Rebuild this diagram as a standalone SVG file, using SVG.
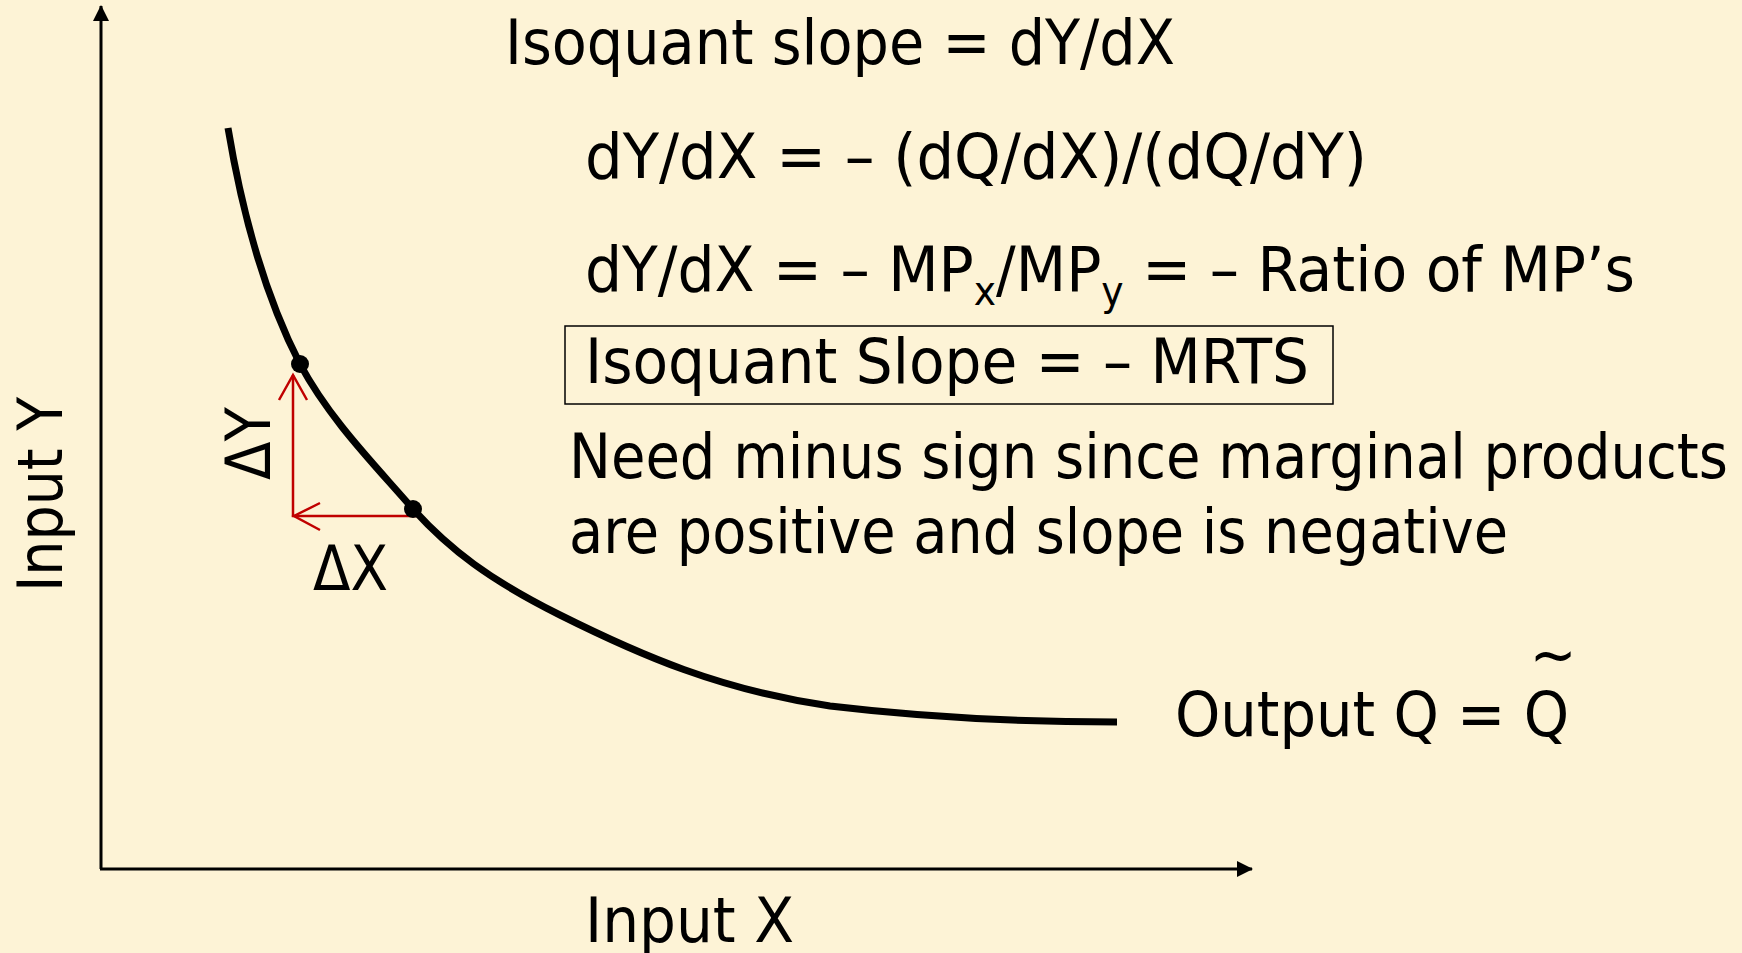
<svg xmlns="http://www.w3.org/2000/svg" width="1742" height="953" viewBox="0 0 1742 953">
<defs>
<style>
.t{font-family:"DejaVu Sans Condensed","DejaVu Sans",sans-serif;font-size:62px;fill:#000}
.axis{stroke:#000;stroke-width:3;fill:none}
.red{stroke:#c00000;stroke-width:2.5;fill:none}
</style>
<marker id="ah" viewBox="0 0 16 16" refX="15" refY="8" markerWidth="16" markerHeight="16" markerUnits="userSpaceOnUse" orient="auto">
<path d="M0,0 L16,8 L0,16 Z" fill="#000"/>
</marker>
</defs>
<rect width="1742" height="953" fill="#FDF3D6"/>
<g id="connectors">
<line class="axis" x1="101" y1="869" x2="101" y2="6" marker-end="url(#ah)"/>
<line class="axis" x1="100" y1="869" x2="1252" y2="869" marker-end="url(#ah)"/>
<path class="red" d="M420,516 L293,516 L293,375"/>
<path class="red" d="M279,400 L293,375 L307,400"/>
<path class="red" d="M320,503 L294,516 L320,530"/>
</g>
<g id="isoquant">
<path d="M228,128 C240,200 262,290 300,364 C330,420 375,465 413,509 C450,550 490,580 560,615 C640,655 720,690 830,706 C930,718 1020,722 1117,722" stroke="#000" stroke-width="7" fill="none"/>
<circle cx="300" cy="364" r="9" fill="#000"/>
<circle cx="413" cy="509" r="9" fill="#000"/>
</g>
<g id="labels">
<text class="t" x="505" y="64" textLength="670" lengthAdjust="spacingAndGlyphs">Isoquant slope = dY/dX</text>
<text class="t" x="585" y="178" textLength="782" lengthAdjust="spacingAndGlyphs">dY/dX = – (dQ/dX)/(dQ/dY)</text>
<text class="t" x="585" y="291" textLength="1050" lengthAdjust="spacingAndGlyphs">dY/dX = – MP<tspan font-size="40" dy="14">x</tspan><tspan dy="-14">/MP</tspan><tspan font-size="40" dy="14">y</tspan><tspan dy="-14"> = – Ratio of MP’s</tspan></text>
<rect x="565" y="326" width="768" height="78" fill="none" stroke="#000" stroke-width="1.5"/>
<text class="t" x="585" y="383" textLength="724" lengthAdjust="spacingAndGlyphs">Isoquant Slope = – MRTS</text>
<text class="t" x="569" y="478" textLength="1159" lengthAdjust="spacingAndGlyphs">Need minus sign since marginal products</text>
<text class="t" x="569" y="553" textLength="939" lengthAdjust="spacingAndGlyphs">are positive and slope is negative</text>
<text class="t" x="1175" y="736" textLength="394" lengthAdjust="spacingAndGlyphs">Output Q = Q</text>
<text class="t" x="1553" y="676" text-anchor="middle" font-size="50">~</text>
<text class="t" x="585" y="942" textLength="209" lengthAdjust="spacingAndGlyphs">Input X</text>
<text class="t" transform="translate(62,592) rotate(-90)" x="0" y="0" textLength="195" lengthAdjust="spacingAndGlyphs">Input Y</text>
<text class="t" transform="translate(270,480) rotate(-90)" x="0" y="0" textLength="73" lengthAdjust="spacingAndGlyphs" font-size="52">ΔY</text>
<text class="t" x="313" y="590" textLength="75" lengthAdjust="spacingAndGlyphs" font-size="52">ΔX</text>
</g>
</svg>
